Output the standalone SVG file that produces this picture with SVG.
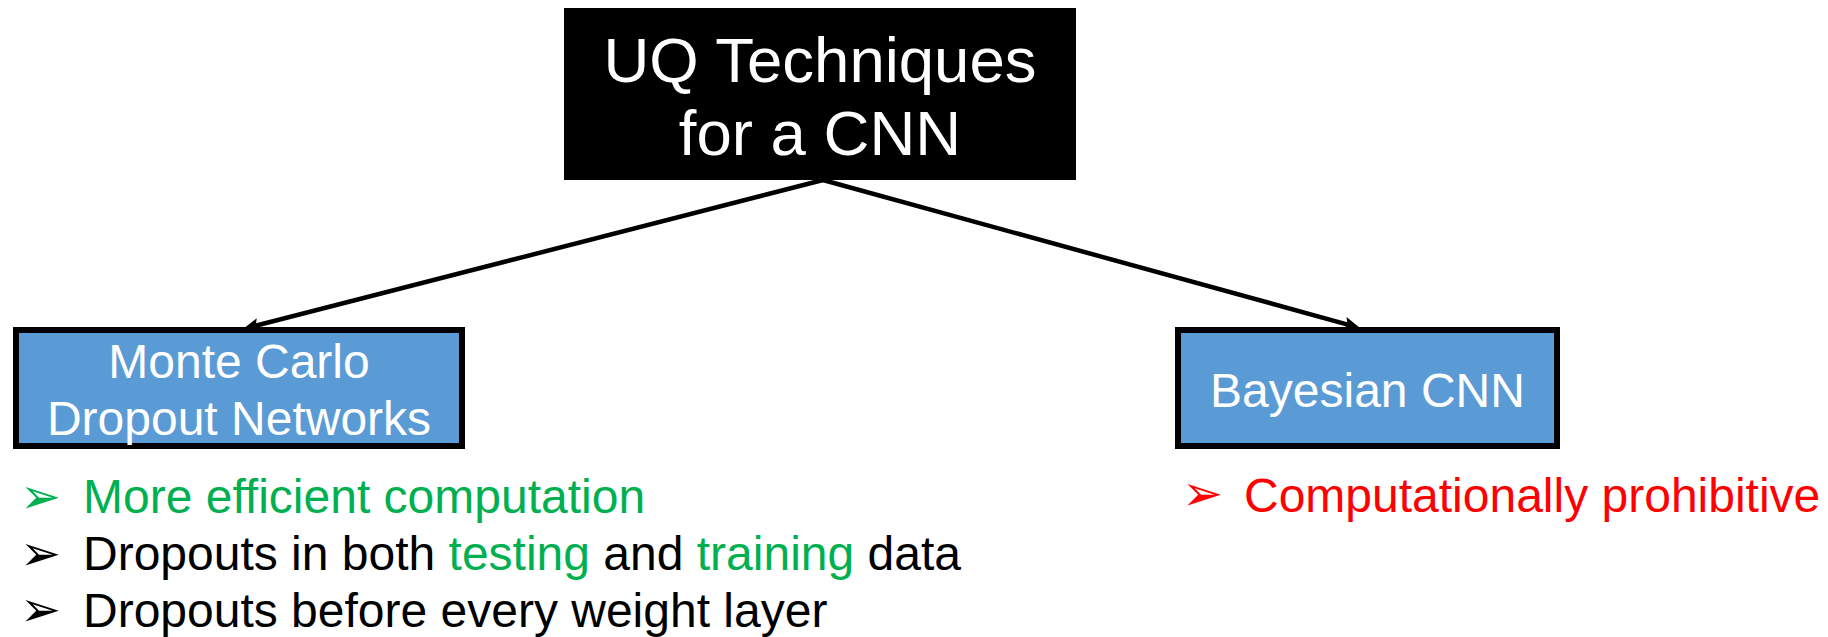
<svg xmlns="http://www.w3.org/2000/svg" width="1828" height="637" viewBox="0 0 1828 637">
  <style>
    text { font-family: "Liberation Sans", Arial, sans-serif; }
    .title { font-size: 63.5px; fill: #ffffff; text-anchor: middle; }
    .label { font-size: 48px; fill: #ffffff; text-anchor: middle; }
    .box { fill: #5B9BD5; stroke: #000000; stroke-width: 6; }
    .item { font-size: 48px; }
    .mark { font-family: "DejaVu Sans", sans-serif; font-size: 49px; }
    .green { fill: #00B050; }
    .black { fill: #000000; }
    .red { fill: #FF0000; }
    .edge { fill: none; stroke: #000000; stroke-width: 4.5; marker-end: url(#arrow); }
  </style>
  <defs>
    <marker id="arrow" viewBox="0 0 16 14" refX="6" refY="7" markerWidth="16" markerHeight="14" markerUnits="userSpaceOnUse" orient="auto">
      <path d="M0,0 L16,7 L0,14 L3,7 z" fill="#000000"/>
    </marker>
  </defs>

  <rect width="1828" height="637" fill="#ffffff"/>

  <!-- connectors from the root to each technique -->
  <g id="connectors">
    <line class="edge" x1="823" y1="180" x2="252.7" y2="326.5"/>
    <line class="edge" x1="823" y1="180" x2="1350.4" y2="325.3"/>
  </g>

  <!-- root node -->
  <g id="root">
    <rect x="564" y="8" width="512" height="172" fill="#000000"/>
    <text class="title" x="820" y="82">UQ Techniques</text>
    <text class="title" x="820" y="155">for a CNN</text>
  </g>

  <!-- Monte Carlo dropout node -->
  <g id="mc-dropout">
    <rect class="box" x="16" y="330" width="446" height="116"/>
    <text class="label" x="239" y="378">Monte Carlo</text>
    <text class="label" x="239" y="435">Dropout Networks</text>
  </g>

  <!-- Bayesian CNN node -->
  <g id="bayesian-cnn">
    <rect class="box" x="1178" y="330" width="379" height="116"/>
    <text class="label" x="1367.5" y="407">Bayesian CNN</text>
  </g>

  <!-- properties of MC dropout -->
  <g id="mc-notes">
    <text class="mark green" x="20" y="513">➢</text>
    <text class="item green" x="83" y="513">More efficient computation</text>
    <text class="mark black" x="20" y="570">➢</text>
    <text class="item black" x="83" y="570">Dropouts in both <tspan class="green">testing</tspan> and <tspan class="green">training</tspan> data</text>
    <text class="mark black" x="20" y="626">➢</text>
    <text class="item black" x="83" y="627">Dropouts before every weight layer</text>
  </g>

  <!-- properties of Bayesian CNN -->
  <g id="bayes-notes">
    <text class="mark red" x="1182" y="510">➢</text>
    <text class="item red" x="1244" y="512">Computationally prohibitive</text>
  </g>
</svg>
